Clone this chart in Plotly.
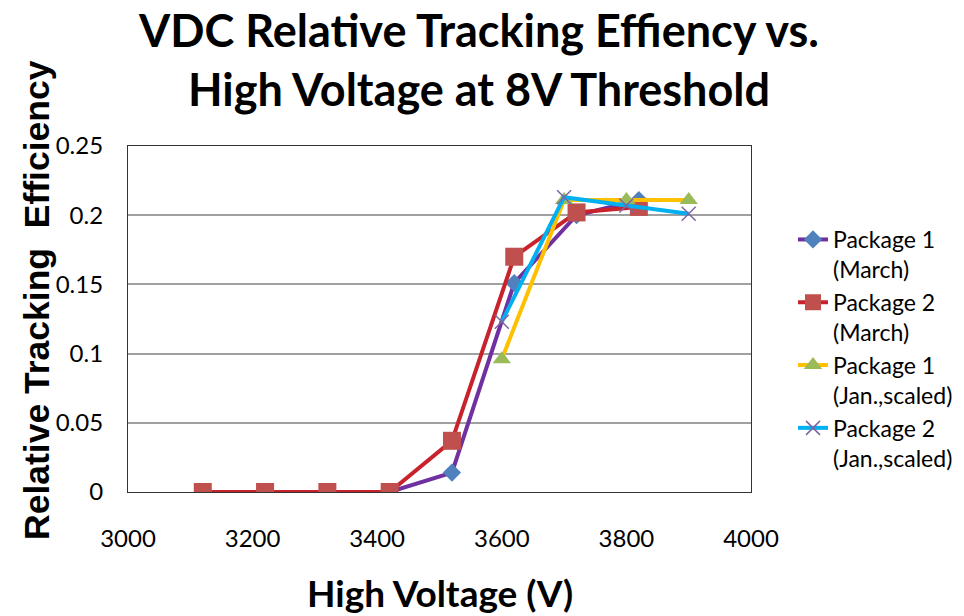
import plotly.graph_objects as go

# ---- data ----
hv_march = [3120, 3220, 3320, 3420, 3520, 3620, 3720, 3820]
p1_march = [0, 0, 0, 0, 0.014, 0.151, 0.200, 0.211]
p2_march = [0, 0, 0, 0, 0.037, 0.170, 0.202, 0.206]

hv_jan = [3600, 3700, 3800, 3900]
p1_jan = [0.096, 0.211, 0.211, 0.211]
p2_jan = [0.123, 0.213, 0.207, 0.201]

names = ["Package 1<br>(March)", "Package 2<br>(March)",
         "Package 1<br>(Jan.,scaled)", "Package 2<br>(Jan.,scaled)"]

x_ticks = [3000, 3200, 3400, 3600, 3800, 4000]
y_ticks = [0, 0.05, 0.1, 0.15, 0.2, 0.25]
y_ticklabels = ["0", "0.05", "0.1", "0.15", "0.2", "0.25"]

TITLE_FONT = "Lato"

fig = go.Figure()
fig.add_trace(go.Scatter(
    x=hv_march, y=p1_march, name=names[0], mode="lines+markers",
    line=dict(color="#7030A0", width=4),
    marker=dict(symbol="diamond", size=14, color="#4F81BD")))
fig.add_trace(go.Scatter(
    x=hv_march, y=p2_march, name=names[1], mode="lines+markers",
    line=dict(color="#C8232C", width=4),
    marker=dict(symbol="square", size=18, color="#C0504D")))
fig.add_trace(go.Scatter(
    x=hv_jan, y=p1_jan, name=names[2], mode="lines+markers",
    line=dict(color="#FFC000", width=4),
    marker=dict(symbol="triangle-up", size=16, color="#9BBB59")))
fig.add_trace(go.Scatter(
    x=hv_jan, y=p2_jan, name=names[3], mode="lines+markers",
    line=dict(color="#00B0F0", width=4),
    marker=dict(symbol="x-thin", size=14, color="#8064A2",
                line=dict(color="#8064A2", width=1.5))))

fig.update_layout(
    width=964, height=616,
    margin=dict(l=128, r=213, t=146, b=124),
    paper_bgcolor="white", plot_bgcolor="white",
    font=dict(family=TITLE_FONT, color="black"),
    title=dict(
        text="<b>VDC Relative Tracking Effiency vs.<br>High Voltage at 8V Threshold</b>",
        font=dict(family=TITLE_FONT, size=45, color="black"),
        x=479 / 964, xanchor="center", xref="container",
        y=1 - 47 / 616, yanchor="middle", yref="container"),
    showlegend=True,
    legend=dict(
        xref="container", yref="container",
        x=793 / 964, xanchor="left",
        y=1 - 218 / 616, yanchor="top",
        valign="top",
        font=dict(family=TITLE_FONT, size=23, color="black"),
        bgcolor="rgba(0,0,0,0)", borderwidth=0),
)

fig.update_xaxes(
    range=[3000, 4000], tickvals=x_ticks,
    tickfont=dict(family=TITLE_FONT, size=24, color="black"),
    showgrid=False, zeroline=False,
    showline=True, linecolor="#333333", linewidth=1.2, mirror=True,
    ticks="", ticklabelstandoff=25,
)
fig.update_yaxes(
    range=[0, 0.25], tickvals=y_ticks, ticktext=y_ticklabels,
    tickfont=dict(family=TITLE_FONT, size=24, color="black"),
    showgrid=True, gridcolor="#A0A0A0", gridwidth=1.5,
    zeroline=False,
    showline=True, linecolor="#333333", linewidth=1.2, mirror=True,
    ticks="", ticklabelstandoff=19,
)

fig.add_annotation(
    text="<b>High Voltage (V)</b>", xref="paper", yref="paper",
    x=0.5, y=(492 - 592) / 346, xanchor="center", yanchor="middle",
    showarrow=False, font=dict(family=TITLE_FONT, size=37, color="black"))
fig.add_annotation(
    text="<b>Relative Tracking  Efficiency</b>", xref="paper", yref="paper",
    x=(37 - 128) / 623, y=(492 - 300) / 346, xanchor="center", yanchor="middle",
    textangle=-90, showarrow=False,
    font=dict(family="Liberation Sans", size=35.5, color="black"))

fig.write_html("out.html")
